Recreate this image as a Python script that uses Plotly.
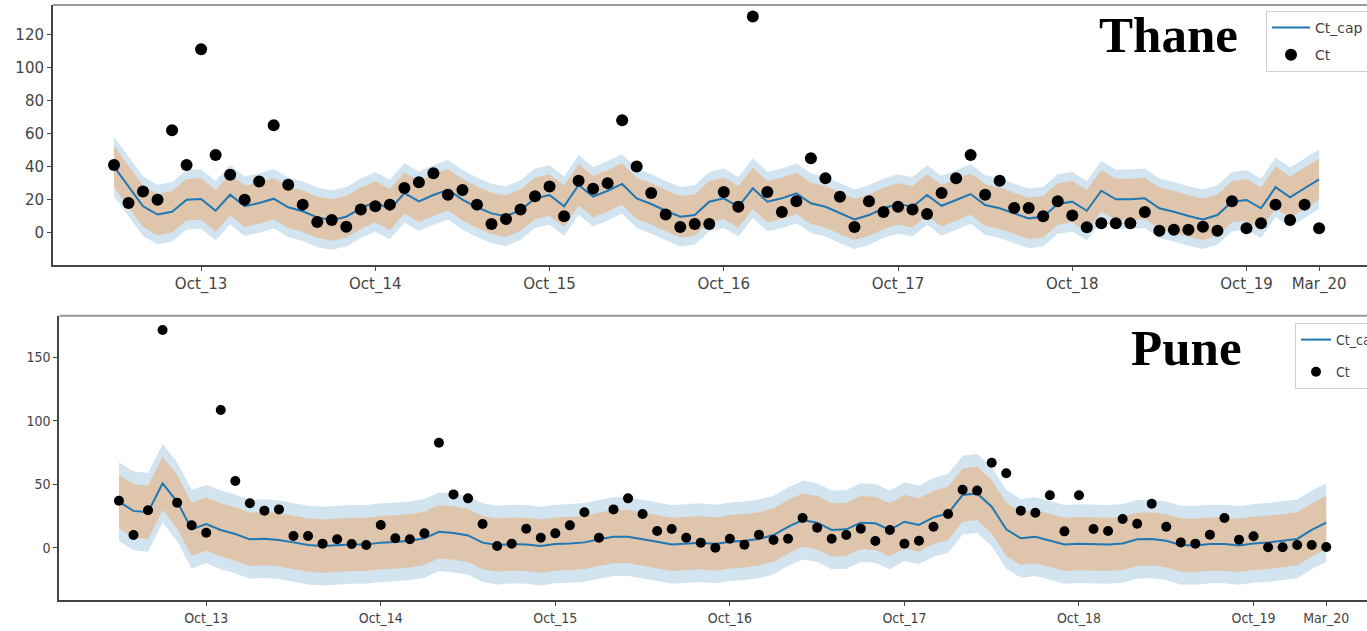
import plotly.graph_objects as go

# ---------------- data ----------------
MONTH_NAMES = ["Jan", "Feb", "Mar", "Apr", "May", "Jun",
               "Jul", "Aug", "Sep", "Oct", "Nov", "Dec"]
months = []
y, m = 2013, 4
while (y, m) <= (2020, 3):
    months.append(f"{MONTH_NAMES[m-1]}_{str(y)[2:]}")
    m += 1
    if m > 12:
        m, y = 1, y + 1

tick_labels = ["Oct_13", "Oct_14", "Oct_15", "Oct_16", "Oct_17",
               "Oct_18", "Oct_19", "Mar_20"]

# Thane
thane_ct = [41, 18, 25, 20, 62, 41, 111, 47, 35, 20, 31, 65,
            29, 17, 6.5, 7.7, 3.6, 14, 16, 17, 27, 30.5, 36, 23,
            25.8, 17, 5.3, 8.3, 14, 22, 28, 10, 31.5, 26.6, 30, 68,
            40, 24, 11, 3.5, 5.3, 5.3, 24.6, 15.7, 130.7, 24.6, 12.5, 19,
            45, 33, 21.8, 3.5, 19, 12.5, 15.7, 14, 11.3, 24, 33, 47,
            23, 31.5, 15, 15, 10, 19, 10.5, 3.3, 5.7, 5.7, 5.7, 12.5,
            1.2, 1.8, 1.8, 3.6, 1.2, 19, 2.7, 5.7, 17, 7.7, 17, 2.7]
thane_cap = [40, 28, 16, 11, 12.7, 20, 20.4, 13.3, 23, 16, 18, 20.6,
             15.4, 13, 9.3, 7.7, 9.7, 14.8, 18.8, 14, 24, 19, 22.8, 26,
             20, 15.4, 11.7, 10, 13.7, 20.8, 22.8, 16, 28.9, 21.8, 25.4, 29.5,
             20.8, 17.4, 13.3, 9.7, 10.7, 18.8, 20.8, 15.7, 26.9, 18.8, 20.8, 23.8,
             17.8, 15.7, 11.7, 8.1, 10.7, 14.8, 17.4, 15.7, 22.8, 16.3, 19.8, 23.4,
             16.8, 14.8, 11.7, 8.7, 9.7, 17.4, 18.8, 13.3, 25.4, 20.2, 20.2, 20.8,
             14.8, 12.7, 10.1, 8.1, 10.7, 18.8, 19.8, 14.8, 27.5, 21.4, 26.9, 32.3]
thane_inner_hw = 12.5   # half-width of the orange band
thane_outer_hw = 18.0   # half-width of the blue band

# Pune
pune_ct = [37, 10, 29.5, 171.5, 35.5, 17.6, 11.8, 108.5, 52.6, 35, 29.2, 30.2,
           9.2, 9.2, 3.2, 6.6, 2.9, 2.1, 17.9, 7.4, 6.6, 11.3, 82.7, 42,
           38.9, 18.7, 1.3, 3.2, 15, 7.9, 11.3, 17.6, 27.9, 7.9, 30.2, 38.9,
           26.6, 13.2, 14.7, 7.9, 4, 0, 7.1, 2.4, 10.2, 6.1, 7.1, 23.4,
           15.8, 7.1, 10, 15, 5.3, 13.9, 3.2, 5.5, 16.5, 26.6, 45.7, 45,
           67, 58.6, 29.2, 27.6, 41.3, 12.9, 41.3, 14.7, 13.2, 22.6, 18.9, 34.7,
           16.5, 4.2, 3.2, 10.2, 23.4, 6.3, 9, 0.3, 0.3, 2.1, 2.1, 0.5]
pune_cap = [36.3, 29, 27.9, 50.7, 36.3, 14.5, 18.7, 14, 10.8, 6.6, 7.1, 6.1,
            4.2, 2.1, 1.3, 2.1, 2.6, 2.6, 4, 4.5, 5.5, 7.4, 12.6, 11.5,
            9.7, 4, 2.1, 2.9, 2.6, 1.3, 2.9, 3.4, 4.2, 6.6, 8.7, 8.7,
            6.9, 4.7, 2.6, 3.4, 4, 2.9, 4.7, 5.5, 6.9, 10, 16.5, 21.8,
            19.7, 14, 14.5, 19.7, 19.2, 14, 20.5, 17.9, 23.9, 27.1, 41.5, 42.8,
            32.3, 14.5, 7.4, 8.7, 5.5, 2.6, 3.2, 2.9, 2.6, 3.4, 6.6, 6.9,
            5.5, 2.1, 1.8, 2.9, 2.9, 1.8, 3.4, 4.2, 5.5, 6.9, 14, 19.7]
pune_inner_hw = 21.0
pune_outer_hw = 31.0

# ---------------- styles ----------------
W, H = 1367, 631
BLUE = "#1f77b4"
BLUE_BAND = "rgba(31,119,180,0.2)"
ORANGE_BAND = "rgba(255,127,14,0.3)"
TICK_FONT_TOP = dict(family="DejaVu Sans", size=15, color="#444")
COND = "DejaVu Sans Condensed, Liberation Sans Narrow, DejaVu Sans"
TICK_FONT_BOT = dict(family=COND, size=14, color="#444")

fig = go.Figure()


def add_panel(ct, cap, inner, outer, xa, ya, legend_name, msize):
    lo_o = [v - outer for v in cap]
    hi_o = [v + outer for v in cap]
    lo_i = [v - inner for v in cap]
    hi_i = [v + inner for v in cap]
    fig.add_trace(go.Scatter(x=months, y=lo_o, mode="lines", line=dict(width=0),
                             showlegend=False, hoverinfo="skip", xaxis=xa, yaxis=ya))
    fig.add_trace(go.Scatter(x=months, y=hi_o, mode="lines", line=dict(width=0),
                             fill="tonexty", fillcolor=BLUE_BAND,
                             showlegend=False, hoverinfo="skip", xaxis=xa, yaxis=ya))
    fig.add_trace(go.Scatter(x=months, y=lo_i, mode="lines", line=dict(width=0),
                             showlegend=False, hoverinfo="skip", xaxis=xa, yaxis=ya))
    fig.add_trace(go.Scatter(x=months, y=hi_i, mode="lines", line=dict(width=0),
                             fill="tonexty", fillcolor=ORANGE_BAND,
                             showlegend=False, hoverinfo="skip", xaxis=xa, yaxis=ya))
    fig.add_trace(go.Scatter(x=months, y=cap, mode="lines", name="Ct_cap",
                             line=dict(color=BLUE, width=2), xaxis=xa, yaxis=ya,
                             legend=legend_name, legendgroup=legend_name + "a"))
    fig.add_trace(go.Scatter(x=months, y=ct, mode="markers", name="Ct",
                             marker=dict(color="black", size=msize), xaxis=xa, yaxis=ya,
                             legend=legend_name, legendgroup=legend_name + "b"))


add_panel(thane_ct, thane_cap, thane_inner_hw, thane_outer_hw, "x", "y", "legend", 12)
add_panel(pune_ct, pune_cap, pune_inner_hw, pune_outer_hw, "x2", "y2", "legend2", 10)

axis_common = dict(showgrid=False, zeroline=False, showline=True, linecolor="#444",
                   linewidth=2, ticks="outside", ticklen=4, tickcolor="#444", mirror=False)

fig.update_layout(
    width=W, height=H,
    margin=dict(l=0, r=0, t=0, b=0, autoexpand=False),
    paper_bgcolor="white", plot_bgcolor="white",
    xaxis=dict(axis_common, domain=[53 / W, 1], anchor="y", type="category",
               categoryorder="array", categoryarray=months,
               range=[-4.2, 86.3], tickvals=tick_labels, ticktext=tick_labels,
               tickfont=TICK_FONT_TOP),
    yaxis=dict(axis_common, domain=[1 - 265 / H, 1 - 5 / H], anchor="x",
               range=[-19.5, 137.7], tickvals=[0, 20, 40, 60, 80, 100, 120],
               tickfont=TICK_FONT_TOP),
    xaxis2=dict(axis_common, domain=[59.3 / W, 1], anchor="y2", type="category",
                categoryorder="array", categoryarray=months,
                range=[-4.1, 85.8], tickvals=tick_labels, ticktext=tick_labels,
                tickfont=TICK_FONT_BOT),
    yaxis2=dict(axis_common, domain=[1 - 600 / H, 1 - 315.7 / H], anchor="x2",
                range=[-41.2, 182.8], tickvals=[0, 50, 100, 150],
                tickfont=TICK_FONT_BOT),
    legend=dict(x=1266 / W, y=1 - 11 / H, xanchor="left", yanchor="top",
                bgcolor="white", bordercolor="#d0d0d0", borderwidth=1,
                font=dict(family="DejaVu Sans", size=14, color="#444"),
                itemwidth=38, traceorder="grouped", tracegroupgap=6),
    legend2=dict(x=1295 / W, y=1 - 323 / H, xanchor="left", yanchor="top",
                 bgcolor="white", bordercolor="#d0d0d0", borderwidth=1,
                 font=dict(family=COND, size=14, color="#444"),
                 traceorder="grouped", tracegroupgap=11),
    showlegend=True,
)

# top frame lines (lighter gray, as in the reference)
for xr, yr in (("x domain", "y domain"), ("x2 domain", "y2 domain")):
    fig.add_shape(type="line", xref=xr, yref=yr, x0=0, x1=1, y0=1, y1=1,
                  line=dict(color="#999", width=2))

TITLE_FONT = dict(family="Liberation Serif, Times New Roman, serif", size=51, color="black")
fig.add_annotation(text="<b>Thane</b>", xref="paper", yref="paper",
                   x=1240 / W, y=1 - 35 / H, xanchor="right", yanchor="middle",
                   showarrow=False, font=TITLE_FONT)
fig.add_annotation(text="<b>Pune</b>", xref="paper", yref="paper",
                   x=1244 / W, y=1 - 348 / H, xanchor="right", yanchor="middle",
                   showarrow=False, font=TITLE_FONT)

fig.write_html("out.html",
               config={"displayModeBar": False},
               post_script="document.body.style.margin='0';"
                           "document.body.style.overflow='hidden';")
